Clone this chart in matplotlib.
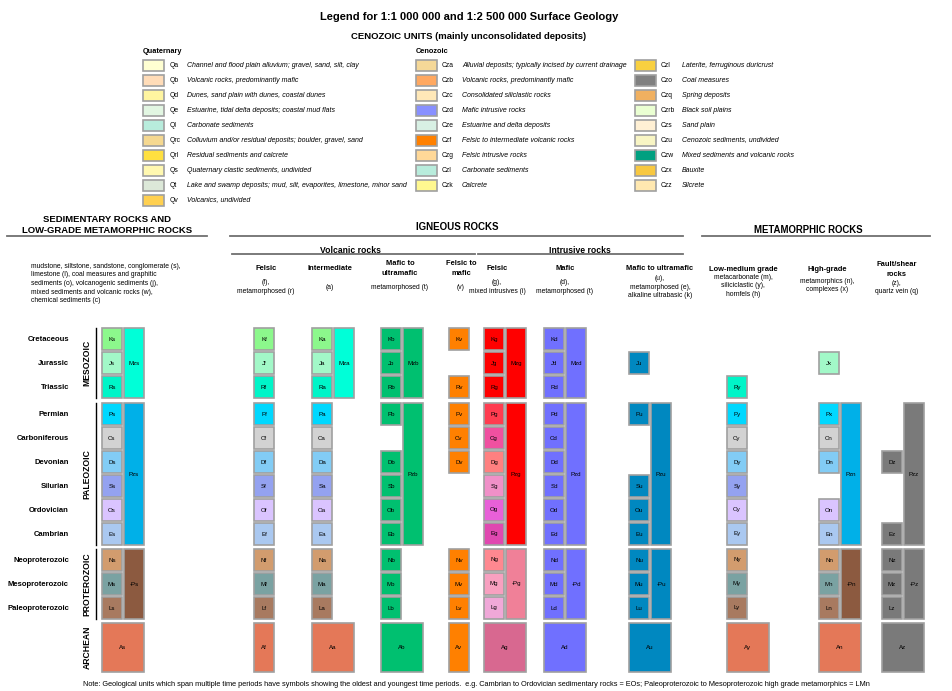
import matplotlib
matplotlib.use("Agg")
import matplotlib.pyplot as plt
from matplotlib.patches import Rectangle

plt.rcParams['font.family'] = ['Liberation Sans', 'DejaVu Sans']

# ---------------- data ----------------
title = "Legend for 1:1 000 000 and 1:2 500 000 Surface Geology"
subtitle = "CENOZOIC UNITS (mainly unconsolidated deposits)"

q_codes = ['Qa', 'Qb', 'Qd', 'Qe', 'Ql', 'Qrc', 'Qrl', 'Qs', 'Qt', 'Qv']
q_desc = ['Channel and flood plain alluvium; gravel, sand, silt, clay',
          'Volcanic rocks, predominantly mafic',
          'Dunes, sand plain with dunes, coastal dunes',
          'Estuarine, tidal delta deposits; coastal mud flats',
          'Carbonate sediments',
          'Colluvium and/or residual deposits; boulder, gravel, sand',
          'Residual sediments and calcrete',
          'Quaternary clastic sediments, undivided',
          'Lake and swamp deposits; mud, silt, evaporites, limestone, minor sand',
          'Volcanics, undivided']
q_colors = ['#ffffd2', '#ffdcb8', '#fff5a0', '#e2f6e2', '#b8ecdc',
            '#f5d890', '#ffe040', '#fff8b0', '#dce8d8', '#ffd050']

cz1_codes = ['Cza', 'Czb', 'Czc', 'Czd', 'Cze', 'Czf', 'Czg', 'Czl', 'Czk']
cz1_desc = ['Alluvial deposits; typically incised by current drainage',
            'Volcanic rocks, predominantly mafic',
            'Consolidated siliclastic rocks',
            'Mafic intrusive rocks',
            'Estuarine and delta deposits',
            'Felsic to intermediate volcanic rocks',
            'Felsic intrusive rocks',
            'Carbonate sediments',
            'Calcrete']
cz1_colors = ['#f5d898', '#ffa860', '#ffe8b8', '#8890ff', '#d8f0e4',
              '#ff8000', '#ffd898', '#b8ecdc', '#fff890']

cz2_codes = ['Czl', 'Czo', 'Czq', 'Czrb', 'Czs', 'Czu', 'Czw', 'Czx', 'Czz']
cz2_desc = ['Laterite, ferruginous duricrust',
            'Coal measures',
            'Spring deposits',
            'Black soil plains',
            'Sand plain',
            'Cenozoic sediments, undivided',
            'Mixed sediments and volcanic rocks',
            'Bauxite',
            'Silcrete']
cz2_colors = ['#f8d040', '#808080', '#f0b060', '#eaffd2', '#fff0d4',
              '#f8f5c4', '#00a080', '#f8c840', '#ffe8b0']

periods = ['Cretaceous', 'Jurassic', 'Triassic', 'Permian', 'Carboniferous',
           'Devonian', 'Silurian', 'Ordovician', 'Cambrian',
           'Neoproterozoic', 'Mesoproterozoic', 'Paleoproterozoic']
eras = ['MESOZOIC', 'PALEOZOIC', 'PROTEROZOIC']
era_periods = [3, 6, 3]

# unit codes per column, one entry per period (None = no unit)
sed_codes = ['Ks', 'Js', 'Rs', 'Ps', 'Cs', 'Ds', 'Ss', 'Os', 'Es', 'Ns', 'Ms', 'Ls']
vf_codes = ['Kf', 'Jf', 'Rf', 'Pf', 'Cf', 'Df', 'Sf', 'Of', 'Ef', 'Nf', 'Mf', 'Lf']
vi_codes = ['Ka', 'Ja', 'Ra', 'Pa', 'Ca', 'Da', 'Sa', 'Oa', 'Ea', 'Na', 'Ma', 'La']
vm_codes = ['Kb', 'Jb', 'Rb', 'Pb', None, 'Db', 'Sb', 'Ob', 'Eb', 'Nb', 'Mb', 'Lb']
vv_codes = ['Kv', None, 'Rv', 'Pv', 'Cv', 'Dv', None, None, None, 'Nv', 'Mv', 'Lv']
if_codes = ['Kg', 'Jg', 'Rg', 'Pg', 'Cg', 'Dg', 'Sg', 'Og', 'Eg', 'Ng', 'Mg', 'Lg']
im_codes = ['Kd', 'Jd', 'Rd', 'Pd', 'Cd', 'Dd', 'Sd', 'Od', 'Ed', 'Nd', 'Md', 'Ld']
iu_codes = [None, 'Ju', None, 'Pu', None, None, 'Su', 'Ou', 'Eu', 'Nu', 'Mu', 'Lu']
my_codes = [None, None, 'Ry', 'Py', 'Cy', 'Dy', 'Sy', 'Oy', 'Ey', 'Ny', 'My', 'Ly']
mn_codes = [None, 'Jx', None, 'Px', 'Cn', 'Dn', None, 'On', 'En', 'Nn', 'Mn', 'Ln']
mz_codes = [None, None, None, None, None, 'Dz', None, None, 'Ez', 'Nz', 'Mz', 'Lz']
all_codes = [sed_codes, vf_codes, vi_codes, vm_codes, vv_codes, if_codes,
             im_codes, iu_codes, my_codes, mn_codes, mz_codes]

# units spanning a whole era (Mesozoic, Paleozoic, Proterozoic)
era_codes = [['Mzs', 'Pzs', '-Ps'], [None, None, None], ['Mza', None, None],
             ['Mzb', 'Pzb', None], [None, None, None], ['Mzg', 'Pzg', '-Pg'],
             ['Mzd', 'Pzd', '-Pd'], [None, 'Pzu', '-Pu'], [None, None, None],
             [None, 'Pzn', '-Pn'], [None, 'Pzz', '-Pz']]
arch_codes = ['As', 'Af', 'Aa', 'Ab', 'Av', 'Ag', 'Ad', 'Au', 'Ay', 'An', 'Az']
arch_wide = [True, False, True, True, False, True, True, True, True, True, True]

# ---------------- styles ----------------
period_colors = ['#8cf88c', '#a2f8c8', '#00f5c8', '#00d8ff', '#d2d2d2', '#82ccf5',
                 '#94a2f0', '#dac4ff', '#aac8f0', '#d29c6e', '#7aa2a2', '#a87a60']
era_colors = ['#00ffd8', '#00b0e8', '#8c5a40']
arch_color = '#e47858'
g_colors = ['#ff0000', '#ff0000', '#ff0000', '#ff3c50', '#f050a0', '#ff8080',
            '#f090c8', '#e860d8', '#e048b0', '#ff8890', '#f8a0c0', '#f0a8d8']
# single-colour columns: index -> colour
flat_colors = {3: '#00c070', 4: '#ff8000', 6: '#7070ff', 7: '#0088c0', 10: '#7a7a7a'}

col_x = [102, 254, 312, 381, 449, 484, 544, 629, 727, 819, 882]
era_top = [328, 403, 549]
arch_top, arch_h = 623, 49
pitch, box_h, box_w, gap = 24, 22, 20, 2
edge = '#a0a0a0'

fig = plt.figure(figsize=(9.53, 6.91), dpi=100)
ax = fig.add_axes([0, 0, 1, 1])
ax.set_xlim(0, 953)
ax.set_ylim(691, 0)
ax.axis('off')


def box(x, y, w, h, color, label):
    ax.add_patch(Rectangle((x, y), w, h, facecolor=color, edgecolor=edge, lw=1.2))
    ax.text(x + w / 2, y + h / 2, label, ha='center', va='center', fontsize=4.4)


def txt(x, y, s, size=5.2, bold=False, ha='center', **kw):
    ax.text(x, y, s, ha=ha, va='center', fontsize=size,
            fontweight='bold' if bold else 'normal', **kw)


# ---------------- titles ----------------
txt(469, 17, title, size=8.0, bold=True)
txt(469, 36, subtitle, size=6.8, bold=True)

# ---------------- cenozoic lists ----------------
def swatch_list(x, codes, descs, colors, code_dx, desc_dx):
    for i, (c, d, col) in enumerate(zip(codes, descs, colors)):
        y = 65 + 15 * i
        ax.add_patch(Rectangle((x, y - 5.5), 21, 11, facecolor=col, edgecolor=edge, lw=1.2))
        txt(x + code_dx, y, c, size=4.9, ha='left')
        txt(x + desc_dx, y, d, size=5.0, ha='left', style='italic')


txt(143, 51, 'Quaternary', size=5.3, bold=True, ha='left')
swatch_list(143, q_codes, q_desc, q_colors, 27, 44)
txt(416, 51, 'Cenozoic', size=5.3, bold=True, ha='left')
swatch_list(416, cz1_codes, cz1_desc, cz1_colors, 26, 46)
swatch_list(635, cz2_codes, cz2_desc, cz2_colors, 26, 47)

# ---------------- section headings ----------------
txt(107, 219, 'SEDIMENTARY ROCKS AND', size=6.8, bold=True)
txt(107, 230, 'LOW-GRADE METAMORPHIC ROCKS', size=6.8, bold=True)
ax.plot([7, 207], [236, 236], color='#707070', lw=1.3)
txt(457, 227, 'IGNEOUS ROCKS', size=7.0, bold=True)
ax.plot([230, 683], [236, 236], color='#707070', lw=1.3)
txt(808, 230, 'METAMORPHIC ROCKS', size=6.9, bold=True)
ax.plot([702, 930], [236, 236], color='#707070', lw=1.3)
txt(350, 250, 'Volcanic rocks', size=6.2, bold=True)
ax.plot([232, 475], [254, 254], color='#707070', lw=1.3)
txt(580, 250, 'Intrusive rocks', size=6.2, bold=True)
ax.plot([478, 683], [254, 254], color='#707070', lw=1.3)

sed_desc = ['mudstone, siltstone, sandstone, conglomerate (s),',
            'limestone (l), coal measures and graphitic',
            'sediments (o), volcanogenic sediments (j),',
            'mixed sediments and volcanic rocks (w),',
            'chemical sediments (c)']
for i, s in enumerate(sed_desc):
    txt(31, 266 + 8.7 * i, s, size=4.9, ha='left')

heads = [(266, ['Felsic'], ['(f),', 'metamorphosed (r)']),
         (330, ['Intermediate'], ['(a)']),
         (400, ['Mafic to', 'ultramafic'], ['metamorphosed (t)']),
         (461, ['Felsic to', 'mafic'], ['(v)']),
         (497, ['Felsic'], ['(g),', 'mixed intrusives (i)']),
         (565, ['Mafic'], ['(d),', 'metamorphosed (t)']),
         (660, ['Mafic to ultramafic'], ['(u),', 'metamorphosed (e),', 'alkaline ultrabasic (k)'])]
for x, h, d in heads:
    hy = 268 - 5 * (len(h) - 1)
    for j, s in enumerate(h):
        txt(x, hy + 10 * j, s, size=5.4, bold=True)
    dy = 287 - 4.3 * (len(d) - 1)
    for j, s in enumerate(d):
        txt(x, dy + 8.6 * j, s, size=4.9)

met_heads = [(743, ['Low-medium grade'], ['metacarbonate (m),', 'siliciclastic (y),', 'hornfels (h)'], 269, 277),
             (827, ['High-grade'], ['metamorphics (n),', 'complexes (x)'], 269, 281),
             (897, ['Fault/shear', 'rocks'], ['(z),', 'quartz vein (q)'], 264, 283)]
for x, h, d, hy, dy in met_heads:
    for j, s in enumerate(h):
        txt(x, hy + 10 * j, s, size=5.4, bold=True)
    for j, s in enumerate(d):
        txt(x, dy + 8.5 * j, s, size=4.9)

# ---------------- time scale ----------------
row_y = []
for e, n in enumerate(era_periods):
    row_y += [era_top[e] + pitch * k for k in range(n)]

for name, y in zip(periods, row_y):
    txt(69, y + box_h / 2, name, size=5.5, bold=True, ha='right')

for e, (name, n) in enumerate(zip(eras, era_periods)):
    y0, y1 = era_top[e], era_top[e] + pitch * (n - 1) + box_h
    ax.plot([96, 96], [y0, y1], color='black', lw=1.0)
    txt(87, (y0 + y1) / 2, name, size=6.2, bold=True, rotation=90)
txt(87, arch_top + arch_h / 2, 'ARCHEAN', size=6.2, bold=True, rotation=90)

# ---------------- unit boxes ----------------
for c, codes in enumerate(all_codes):
    x = col_x[c]
    for p, code in enumerate(codes):
        if code is None:
            continue
        if c in flat_colors:
            color = flat_colors[c]
        elif c == 5:
            color = g_colors[p]
        else:
            color = period_colors[p]
        box(x, row_y[p], box_w, box_h, color, code)
    for e, code in enumerate(era_codes[c]):
        if code is None:
            continue
        if c in flat_colors:
            color = flat_colors[c]
        elif c == 5:
            color = ['#ff0000', '#ff0000', '#f08098'][e]
        else:
            color = era_colors[e]
        y0 = era_top[e]
        h = pitch * (era_periods[e] - 1) + box_h
        box(x + box_w + gap, y0, box_w, h, color, code)
    if c in flat_colors:
        acol = flat_colors[c]
    elif c == 5:
        acol = '#d86890'
    else:
        acol = arch_color
    w = 2 * box_w + gap if arch_wide[c] else box_w
    box(x, arch_top, w, arch_h, acol, arch_codes[c])

note = ("Note: Geological units which span multiple time periods have symbols showing the oldest and "
        "youngest time periods.  e.g. Cambrian to Ordovician sedimentary rocks = EOs; Paleoproterozoic "
        "to Mesoproterozoic high grade metamorphics = LMn")
txt(83, 684, note, size=5.3, ha='left')

fig.savefig('out.png', dpi=100, facecolor='white')
